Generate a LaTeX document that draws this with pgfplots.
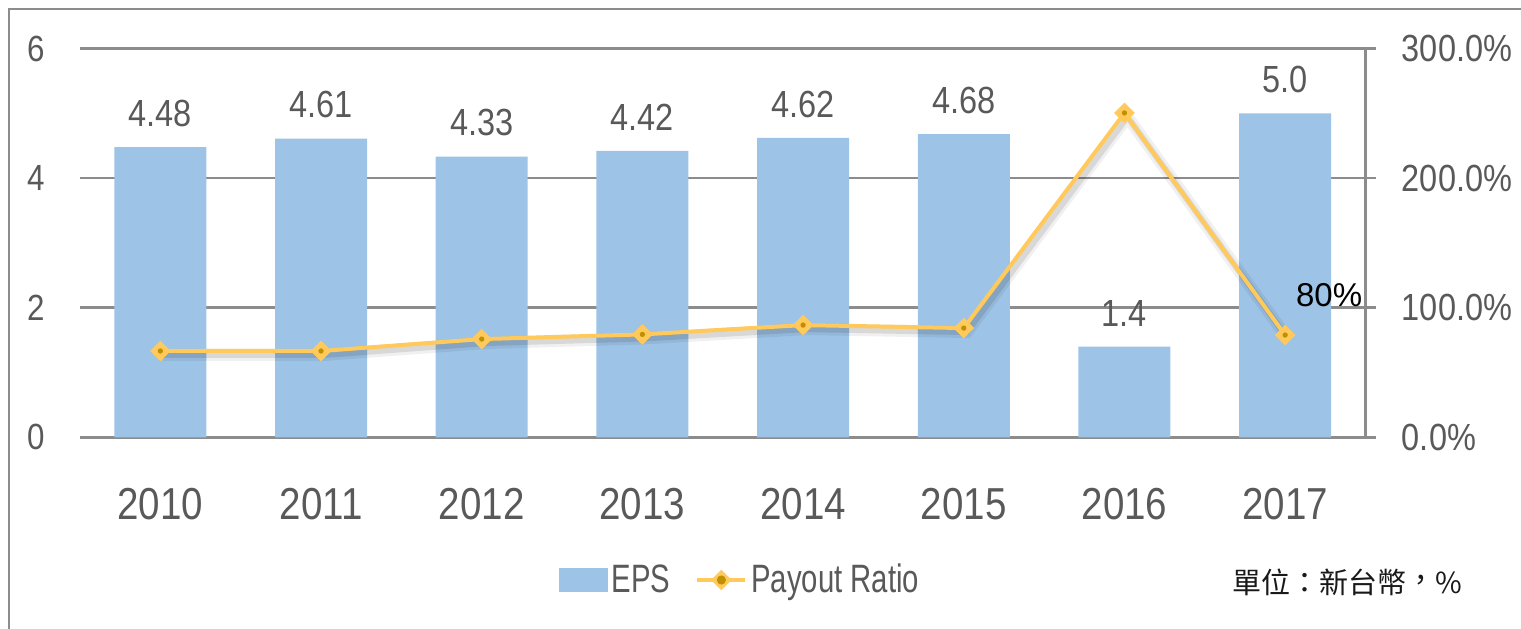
\documentclass[border=0pt]{standalone}
\usepackage{pgfplots}
\pgfplotsset{compat=1.18}
\usepackage{fontspec}
\setmainfont{Liberation Sans}[FakeStretch=0.86]
\newfontfamily\plainfont{Liberation Sans}
\newfontfamily\legfont{Liberation Sans}[FakeStretch=0.74]
\newfontfamily\cjk{Noto Sans CJK TC}
\definecolor{txt}{HTML}{595959}
\definecolor{gridc}{HTML}{8C8C8C}
\definecolor{barc}{HTML}{9DC3E6}
\definecolor{linc}{HTML}{FFC95C}
\definecolor{dotc}{HTML}{C09000}
\begin{document}
\begin{tikzpicture}
\useasboundingbox (0,0) rectangle (760.5pt,-314pt);
\draw[gridc, line width=1pt] (4.5pt,-4.5pt) rectangle (775pt,-330pt);
\begin{axis}[
  at={(40pt,-218.65pt)}, anchor=south west,
  scale only axis, width=642.75pt, height=194.4pt,
  xmin=-0.5, xmax=7.5, ymin=0, ymax=6,
  axis line style={draw=none},
  major tick length=0pt, tick style={draw=none},
  ytick={0,2,4,6}, yticklabels={0,2,4,6},
  xtick={0,...,7}, xticklabels={2010,2011,2012,2013,2014,2015,2016,2017},
  ymajorgrids, grid style={gridc, line width=1.3pt},
  yticklabel style={anchor=east, inner sep=0pt, xshift=-17.5pt, text=txt, font=\fontsize{18.2pt}{19pt}\selectfont},
  xticklabel style={anchor=base, inner sep=0pt, yshift=-41pt, text=txt, font=\fontsize{22.4pt}{23pt}\selectfont},
  clip=false,
]
\addplot[ybar, fill=barc, draw=none, bar width=46pt,
  point meta=explicit symbolic, nodes near coords,
  every node near coord/.append style={anchor=south, inner sep=0pt, yshift=10pt, text=txt, font=\fontsize{18.9pt}{19pt}\selectfont}]
  coordinates {(0,4.48)[4.48] (1,4.61)[4.61] (2,4.33)[4.33] (3,4.42)[4.42] (4,4.62)[4.62] (5,4.68)[4.68] (6,1.4)[1.4] (7,5.0)[5.0]};
\end{axis}
\begin{axis}[
  at={(40pt,-218.65pt)}, anchor=south west,
  scale only axis, width=642.75pt, height=194.4pt,
  xmin=-0.5, xmax=7.5, ymin=0, ymax=300,
  axis x line=none, axis y line*=right,
  axis line style={gridc, line width=1.3pt},
  xtick=\empty,
  ytick={0,100,200,300}, yticklabels={0.0\%,100.0\%,200.0\%,300.0\%},
  tick align=outside, major tick length=5pt,
  ytick style={draw=gridc, line width=1.3pt},
  yticklabel style={anchor=west, inner sep=0pt, xshift=13pt, text=txt, font=\fontsize{18.9pt}{19pt}\selectfont},
  clip=false,
  legend style={at={(0.368,-0.367)}, anchor=west, draw=none, fill=none, legend columns=2,
    font=\legfont\fontsize{19.8pt}{20pt}\selectfont, text=txt,
    /tikz/every even column/.append style={column sep=10.5pt}},
]
\addlegendimage{legend image code/.code={\fill[barc] (0pt,-5.75pt) rectangle (23.75pt,5.75pt);}}
\addlegendentry{EPS}
\addplot[black, opacity=0.06, line width=6pt, xshift=1.5pt, yshift=-2pt, forget plot]
  coordinates {(0,66.6) (1,66.6) (2,75.8) (3,79.4) (4,86.6) (5,84.3) (6,250.3) (7,78.9)};
\addplot[black, opacity=0.10, line width=3pt, xshift=1.5pt, yshift=-2pt, forget plot]
  coordinates {(0,66.6) (1,66.6) (2,75.8) (3,79.4) (4,86.6) (5,84.3) (6,250.3) (7,78.9)};
\addplot[linc, line width=2pt, mark=square*, mark size=2.65pt, mark options={rotate=45, fill=linc, draw=linc},
  legend image code/.code={\draw[linc, line width=2pt] (0pt,0pt)--(24pt,0pt); \fill[linc] (12pt,3.75pt)--(15.75pt,0pt)--(12pt,-3.75pt)--(8.25pt,0pt)--cycle; \fill[dotc] (12pt,0pt) circle (1.2pt);}]
  coordinates {(0,66.6) (1,66.6) (2,75.8) (3,79.4) (4,86.6) (5,84.3) (6,250.3) (7,78.9)};
\addlegendentry{Payout Ratio}
\addplot[only marks, mark=*, mark size=1.1pt, dotc, forget plot]
  coordinates {(0,66.6) (1,66.6) (2,75.8) (3,79.4) (4,86.6) (5,84.3) (6,250.3) (7,78.9)};
\node[font=\plainfont\fontsize{16.5pt}{17pt}\selectfont, text=black, inner sep=0pt, xshift=22pt, yshift=20pt] at (axis cs:7,78.9) {80\%};
\end{axis}
\node[font=\cjk\fontsize{14.5pt}{15pt}\selectfont, text=black!90, anchor=west, inner sep=0pt] at (615.8pt,-291.3pt) {單位：新台幣\raisebox{0.12em}{，}\%};
\end{tikzpicture}
\end{document}
